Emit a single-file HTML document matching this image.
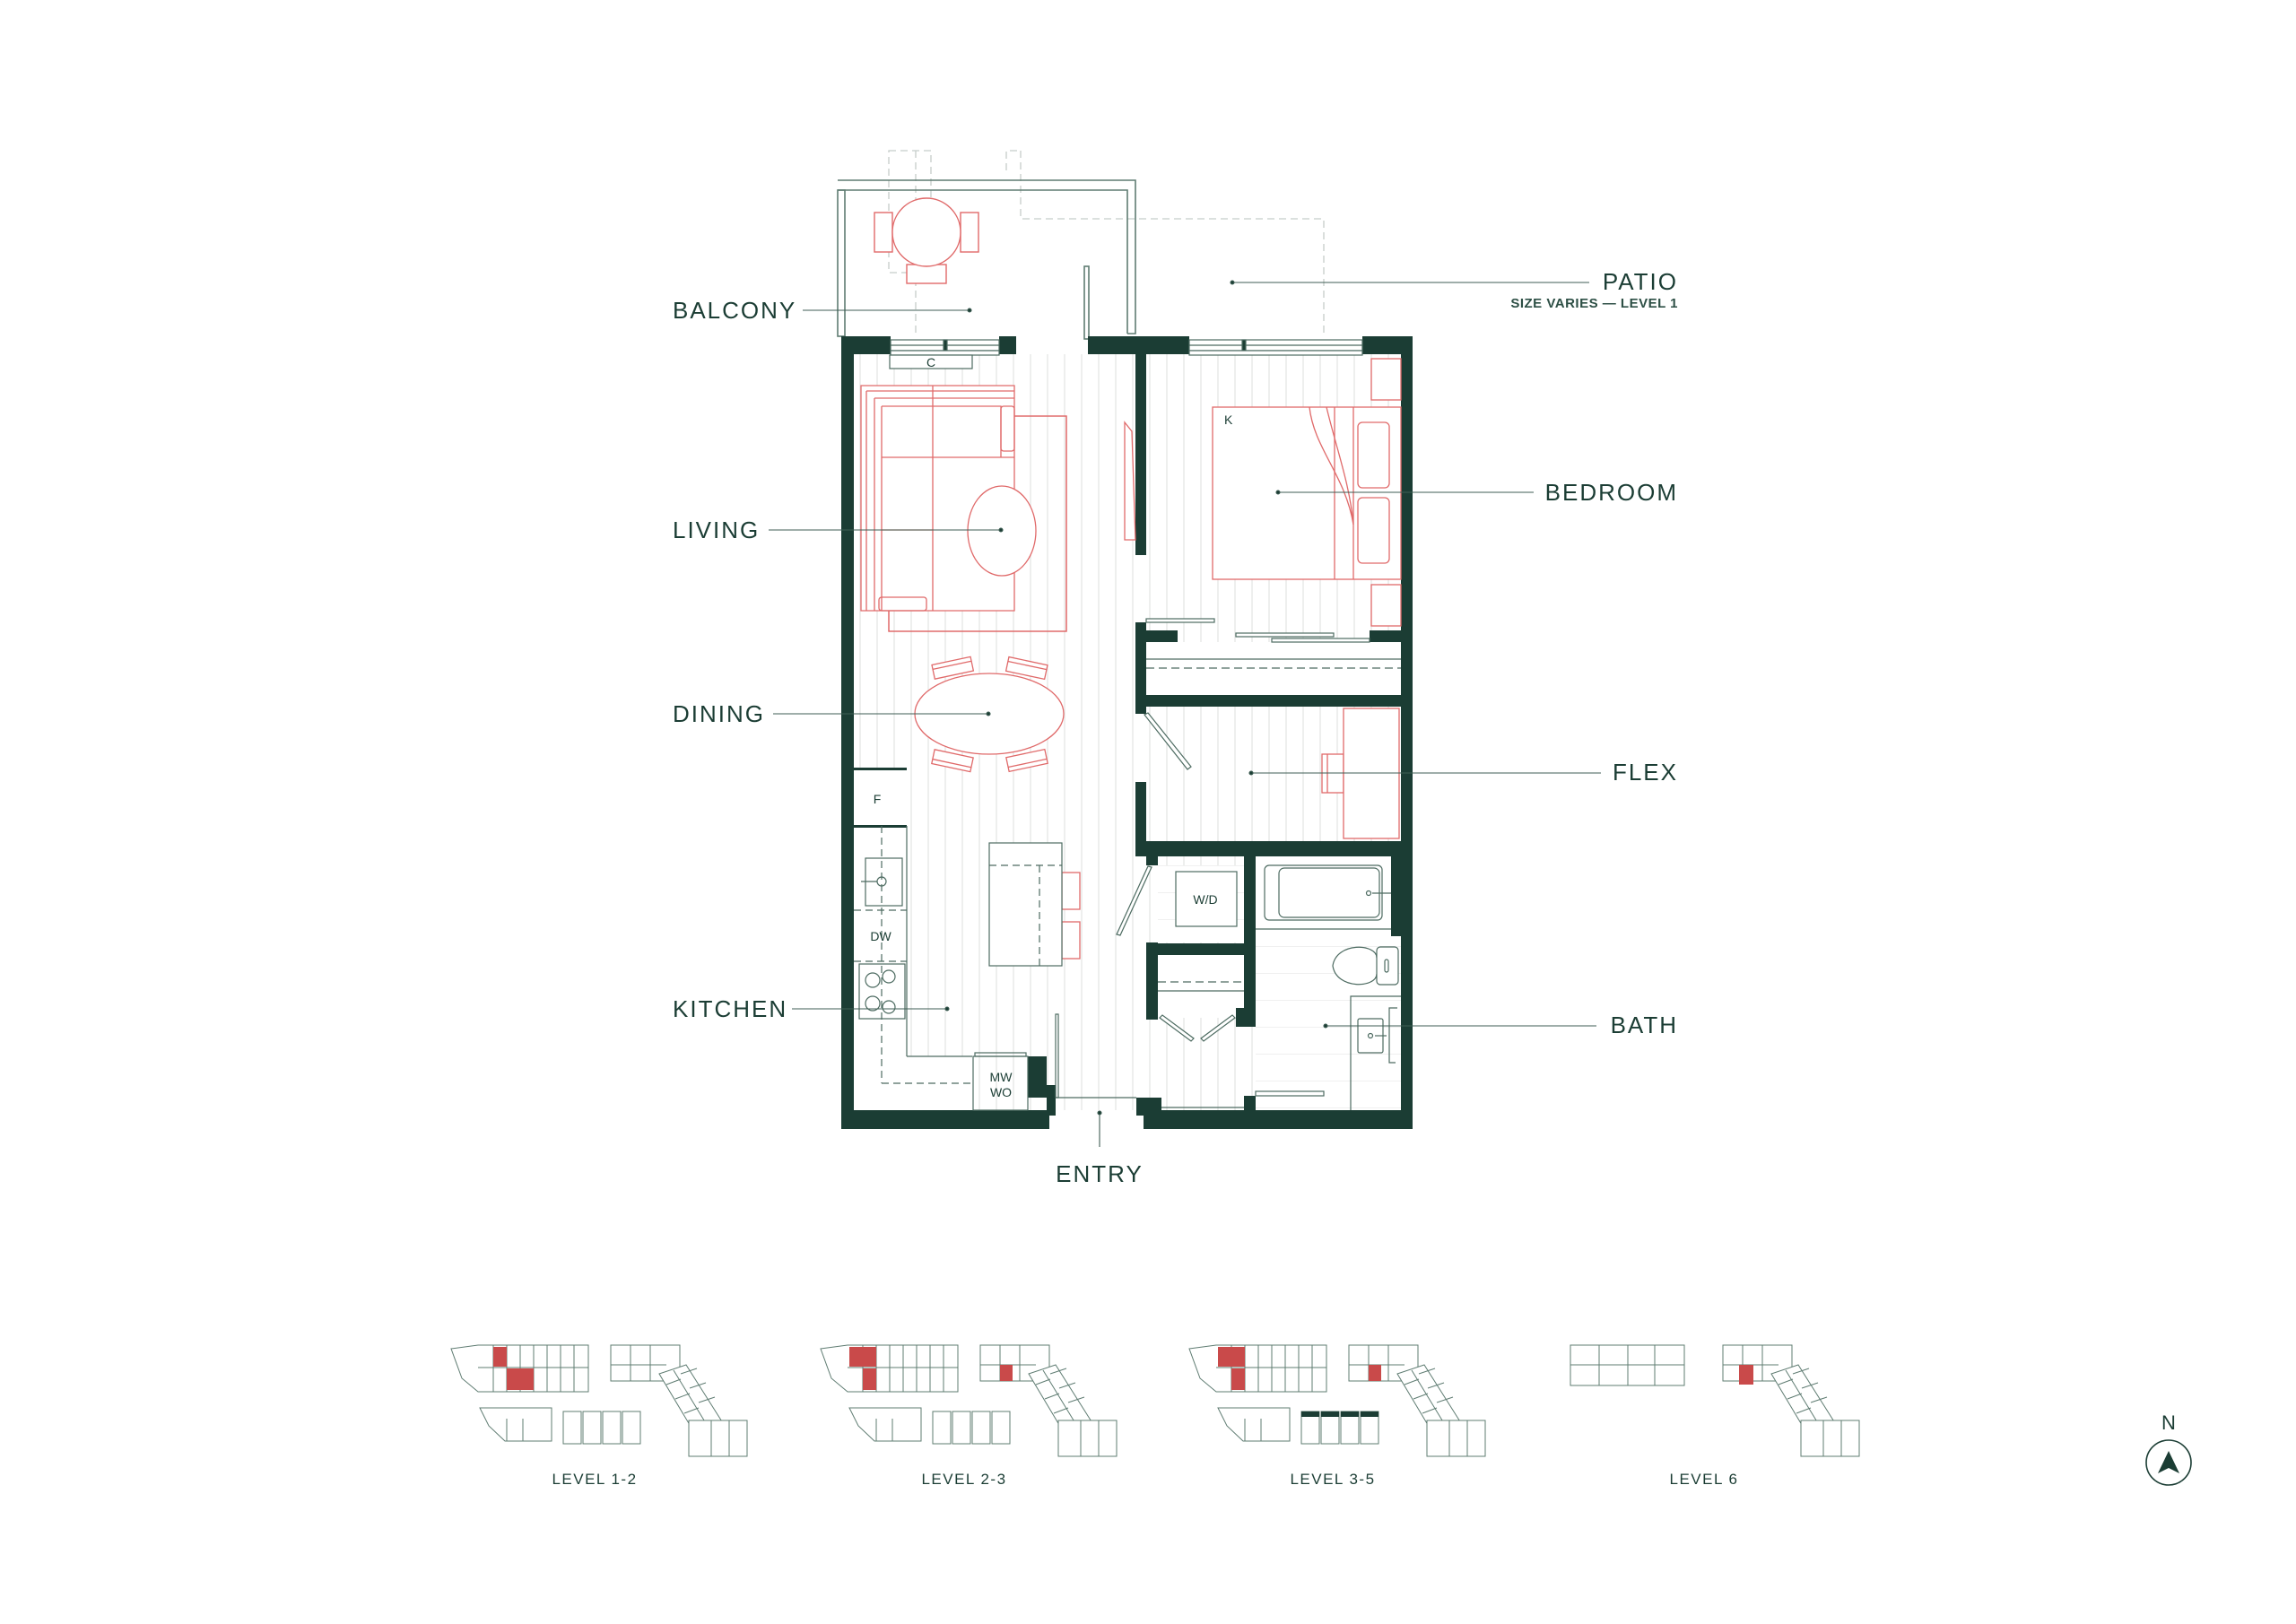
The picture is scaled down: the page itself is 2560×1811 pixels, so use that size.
<!DOCTYPE html>
<html><head><meta charset="utf-8"><style>
html,body{margin:0;padding:0;background:#fff;}
svg{display:block;}
.lbl{font-family:"Liberation Sans",sans-serif;font-size:26px;letter-spacing:2px;fill:#1b3d34;}
.sm{font-family:"Liberation Sans",sans-serif;font-size:15px;font-weight:bold;letter-spacing:0.5px;fill:#2d4f45;}
.tx{font-family:"Liberation Sans",sans-serif;font-size:14px;fill:#1b3d34;}
.kl{font-family:"Liberation Sans",sans-serif;font-size:17px;letter-spacing:1.5px;fill:#1b3d34;}
</style></head><body>
<svg width="2560" height="1811" viewBox="0 0 2560 1811" xmlns="http://www.w3.org/2000/svg">
<defs>
<pattern id="hatch" x="0" y="0" width="19" height="20" patternUnits="userSpaceOnUse">
<line x1="9" y1="0" x2="9" y2="20" stroke="#e2e4e3" stroke-width="1.2"/>
</pattern>
<pattern id="tile" x="0" y="5" width="200" height="30" patternUnits="userSpaceOnUse">
<line x1="0" y1="0" x2="200" y2="0" stroke="#e6e8e7" stroke-width="1.2"/>
</pattern>
<g id="wing">
<rect x="178" y="8" width="77" height="40" fill="#fff" stroke="#5f7c72"/>
<line x1="200" y1="8" x2="200" y2="48" stroke="#5f7c72"/><line x1="222" y1="8" x2="222" y2="48" stroke="#5f7c72"/>
<line x1="178" y1="30" x2="240" y2="30" stroke="#5f7c72"/>
<polygon points="232,40 262,30 305,98 275,112" fill="#fff" stroke="#5f7c72"/>
<line x1="248" y1="36" x2="290" y2="105" stroke="#5f7c72"/>
<line x1="240" y1="52" x2="256" y2="46" stroke="#5f7c72"/><line x1="250" y1="68" x2="266" y2="62" stroke="#5f7c72"/>
<line x1="260" y1="84" x2="276" y2="78" stroke="#5f7c72"/><line x1="256" y1="40" x2="274" y2="34" stroke="#5f7c72"/>
<line x1="266" y1="56" x2="284" y2="50" stroke="#5f7c72"/><line x1="276" y1="72" x2="294" y2="66" stroke="#5f7c72"/>
<rect x="265" y="92" width="65" height="40" fill="#fff" stroke="#5f7c72"/>
<line x1="290" y1="92" x2="290" y2="132" stroke="#5f7c72"/><line x1="310" y1="92" x2="310" y2="132" stroke="#5f7c72"/>
</g>
<g id="ulb">
<polygon points="0,12 30,8 153,8 153,60 30,60 12,45" fill="#fff" stroke="#5f7c72"/>
<line x1="30" y1="33" x2="153" y2="33" stroke="#5f7c72"/>
<line x1="47" y1="8" x2="47" y2="60" stroke="#5f7c72"/><line x1="62" y1="8" x2="62" y2="60" stroke="#5f7c72"/>
<line x1="77" y1="8" x2="77" y2="60" stroke="#5f7c72"/><line x1="92" y1="8" x2="92" y2="60" stroke="#5f7c72"/>
<line x1="107" y1="8" x2="107" y2="60" stroke="#5f7c72"/><line x1="122" y1="8" x2="122" y2="60" stroke="#5f7c72"/>
<line x1="137" y1="8" x2="137" y2="60" stroke="#5f7c72"/>
<polygon points="32,78 112,78 112,115 60,115 42,98" fill="#fff" stroke="#5f7c72"/>
<line x1="62" y1="90" x2="62" y2="115" stroke="#5f7c72"/><line x1="80" y1="90" x2="80" y2="115" stroke="#5f7c72"/>
</g>
</defs>

<!-- interior hatch -->
<rect x="952" y="395" width="610" height="843" fill="url(#hatch)"/>
<!-- kitchen counter white -->
<rect x="952" y="858" width="59" height="380" fill="#fff"/>
<rect x="1011" y="1178" width="73" height="60" fill="#fff"/>
<!-- bath/laundry tiles -->
<rect x="1400" y="955" width="162" height="283" fill="#fff"/>
<rect x="1400" y="1044" width="162" height="194" fill="url(#tile)"/>
<rect x="1291" y="965" width="96" height="86" fill="#fff"/>
<rect x="1291" y="965" width="96" height="86" fill="url(#tile)"/>
<rect x="1291" y="1065" width="96" height="70" fill="#fff"/>
<!-- bedroom closet -->
<rect x="1278" y="716" width="284" height="59" fill="#fff"/>

<!-- patio dashed -->
<g fill="none" stroke="#c5cdca" stroke-width="1.3" stroke-dasharray="8,5">
<polyline points="1138,168 1138,244 1476,244 1476,375"/>
<rect x="991" y="168" width="47" height="136"/>
<line x1="1021" y1="168" x2="1021" y2="375"/>
<polyline points="1122,190 1122,168 1138,168"/>
</g>
<!-- balcony rails -->
<g fill="none" stroke="#5f7c72" stroke-width="1.6">
<polyline points="934,201 1266,201 1266,372 1257,372"/>
<polyline points="934,212 1257,212 1257,372"/>
<rect x="934" y="212" width="8" height="163"/>
<rect x="1209" y="297" width="5" height="81"/>
</g>
<!-- balcony furniture -->
<g fill="#fff" stroke="#e06a6a" stroke-width="1.4">
<rect x="975" y="237" width="20" height="44"/><rect x="1071" y="237" width="20" height="44"/>
<rect x="1011" y="295" width="44" height="21"/>
<ellipse cx="1033" cy="259" rx="38" ry="38"/>
</g>

<!-- walls -->
<g fill="#1b3d34">
<rect x="938" y="375" width="14" height="884"/>
<rect x="938" y="375" width="55" height="20"/>
<rect x="1114" y="375" width="19" height="20"/>
<rect x="1213" y="375" width="113" height="20"/>
<rect x="1519" y="375" width="56" height="20"/>
<rect x="1562" y="375" width="13" height="884"/>
<rect x="938" y="1238" width="232" height="21"/>
<rect x="1275" y="1238" width="300" height="21"/>
<rect x="1146" y="1178" width="21" height="46"/>
<rect x="1167" y="1210" width="10" height="34"/>
<rect x="1267" y="1224" width="28" height="20"/>
<rect x="1266" y="395" width="12" height="224"/>
<rect x="1266" y="694" width="12" height="102"/>
<rect x="1278" y="703" width="35" height="13"/>
<rect x="1527" y="703" width="35" height="13"/>
<rect x="1266" y="775" width="309" height="13"/>
<rect x="1266" y="872" width="12" height="83"/>
<rect x="1266" y="938" width="309" height="17"/>
<rect x="1387" y="955" width="13" height="190"/>
<rect x="1278" y="955" width="13" height="10"/>
<rect x="1278" y="1051" width="13" height="86"/>
<rect x="1278" y="1052" width="122" height="13"/>
<rect x="1378" y="1124" width="22" height="21"/>
<rect x="1551" y="955" width="24" height="89"/>
<rect x="1387" y="1222" width="13" height="16"/>
<rect x="952" y="856" width="59" height="3"/>
<rect x="952" y="920" width="59" height="3"/>
</g>

<!-- windows -->
<g fill="#fff" stroke="#4d6b61" stroke-width="1.2">
<rect x="993" y="379" width="121" height="12"/>
<line x1="993" y1="385" x2="1114" y2="385"/>
<rect x="1052" y="379" width="4" height="12" fill="#1b3d34"/>
<rect x="993" y="391" width="121" height="5"/>
<rect x="1326" y="379" width="193" height="12"/>
<line x1="1326" y1="385" x2="1519" y2="385"/>
<rect x="1385" y="379" width="4" height="12" fill="#1b3d34"/>
<rect x="1326" y="391" width="193" height="5"/>
<rect x="992" y="396" width="92" height="15"/>
</g>
<text x="1038" y="409" class="tx" text-anchor="middle" font-size="12">C</text>

<!-- living furniture -->
<g fill="none" stroke="#e06a6a" stroke-width="1.3">
<rect x="991" y="464" width="198" height="240" fill="none"/>
<path d="M960,430 H1131 V681 H960 Z" fill="#fff"/>
<path d="M966,436 H1131 M966,436 V681"/>
<path d="M975,444 H1131 M975,444 V681"/>
<path d="M983,453 H1116 V510 M983,453 V681"/>
<rect x="1116" y="453" width="15" height="50" rx="3"/>
<line x1="1040" y1="430" x2="1040" y2="510"/>
<line x1="983" y1="510" x2="1131" y2="510"/>
<line x1="1040" y1="510" x2="1040" y2="681"/>
<line x1="983" y1="591" x2="1040" y2="591"/>
<rect x="980" y="666" width="53" height="15" rx="3"/>
<path d="M1131,464 H1189 V704 H991 V681"/>
<ellipse cx="1117" cy="592" rx="38" ry="50" fill="#fff"/>
<polygon points="1254,471 1262,481 1266,602 1254,602" fill="#fff"/>
</g>

<!-- bed -->
<g fill="#fff" stroke="#e06a6a" stroke-width="1.3">
<rect x="1529" y="400" width="33" height="46"/>
<rect x="1529" y="652" width="33" height="46"/>
<rect x="1352" y="454" width="210" height="192"/>
<line x1="1488" y1="454" x2="1488" y2="646"/><line x1="1509" y1="454" x2="1509" y2="646"/>
<rect x="1514" y="471" width="35" height="73" rx="5"/>
<rect x="1514" y="555" width="35" height="73" rx="5"/>
<path d="M1460,454 C1465,500 1500,530 1509,585 M1479,454 C1490,500 1505,540 1509,585" fill="none"/>
</g>
<text x="1365" y="473" class="tx">K</text>
<!-- closet slides -->
<g fill="#fff" stroke="#4d6b61" stroke-width="1.2">
<rect x="1278" y="690" width="76" height="4"/>
<rect x="1378" y="706" width="109" height="4"/>
<rect x="1418" y="712" width="109" height="4"/>
<line x1="1278" y1="735" x2="1562" y2="735"/>
<line x1="1278" y1="745" x2="1562" y2="745" stroke-dasharray="9,5"/>
</g>

<!-- dining -->
<g fill="#fff" stroke="#e06a6a" stroke-width="1.3">
<g transform="rotate(-12 1061 744)"><rect x="1040" y="737" width="44" height="16"/><line x1="1040" y1="742" x2="1084" y2="742"/></g>
<g transform="rotate(12 1145 744)"><rect x="1123" y="737" width="44" height="16"/><line x1="1123" y1="742" x2="1167" y2="742"/></g>
<g transform="rotate(12 1061 848)"><rect x="1040" y="840" width="44" height="16"/><line x1="1040" y1="851" x2="1084" y2="851"/></g>
<g transform="rotate(-12 1145 848)"><rect x="1123" y="840" width="44" height="16"/><line x1="1123" y1="851" x2="1167" y2="851"/></g>
<ellipse cx="1103" cy="796" rx="83" ry="45"/>
</g>

<!-- flex desk -->
<g fill="#fff" stroke="#e06a6a" stroke-width="1.3">
<rect x="1474" y="841" width="24" height="43"/>
<line x1="1480" y1="841" x2="1480" y2="884"/>
<rect x="1498" y="790" width="62" height="145"/>
</g>
<!-- doors -->
<g stroke="#4d6b61" stroke-width="1.2" fill="#fff">
<polygon points="1276,797 1280,795 1328,855 1324,858"/>
<polygon points="1280,966 1284,967 1249,1043 1245,1042"/>
<polygon points="1293,1135 1296,1132 1331,1158 1328,1161"/>
<polygon points="1377,1135 1374,1132 1339,1158 1342,1161"/>
<rect x="1177" y="1131" width="3" height="93"/>
<line x1="1177" y1="1224" x2="1267" y2="1224"/>
<rect x="1400" y="1217" width="76" height="5"/>
<line x1="1295" y1="1235" x2="1387" y2="1235"/>
<line x1="1291" y1="1095" x2="1387" y2="1095" stroke-dasharray="9,5"/>
<line x1="1291" y1="1105" x2="1387" y2="1105"/>
</g>

<!-- kitchen -->
<g fill="none" stroke="#4d6b61" stroke-width="1.2">
<line x1="1011" y1="921" x2="1011" y2="1178"/>
<line x1="1011" y1="1178" x2="1084" y2="1178"/>
<rect x="965" y="957" width="41" height="53"/>
<circle cx="983" cy="983" r="5"/><line x1="960" y1="983" x2="978" y2="983"/>
<g stroke-dasharray="8,5"><line x1="983" y1="921" x2="983" y2="1208"/><line x1="983" y1="1208" x2="1084" y2="1208"/>
<line x1="952" y1="1015" x2="1011" y2="1015"/><line x1="952" y1="1072" x2="1011" y2="1072"/></g>
<rect x="958" y="1075" width="51" height="61"/>
<circle cx="973" cy="1093" r="8"/><circle cx="991" cy="1089" r="7"/>
<circle cx="973" cy="1119" r="8"/><circle cx="991" cy="1123" r="7"/>
<rect x="1085" y="1178" width="61" height="60"/>
<rect x="1087" y="1174" width="57" height="4"/>
</g>
<text x="978" y="896" class="tx" text-anchor="middle">F</text>
<text x="982" y="1049" class="tx" text-anchor="middle">DW</text>
<text x="1116" y="1206" class="tx" text-anchor="middle">MW</text>
<text x="1116" y="1223" class="tx" text-anchor="middle">WO</text>
<!-- island -->
<g fill="#fff" stroke="#e06a6a" stroke-width="1.3"><rect x="1184" y="973" width="20" height="41"/><rect x="1184" y="1028" width="20" height="41"/></g>
<g fill="#fff" stroke="#4d6b61" stroke-width="1.2">
<rect x="1103" y="940" width="81" height="137"/>
<path d="M1103,965 H1184 M1159,965 V1077" fill="none" stroke-dasharray="8,5"/>
</g>

<!-- laundry / bath fixtures -->
<g fill="#fff" stroke="#4d6b61" stroke-width="1.2">
<rect x="1311" y="972" width="68" height="61"/>
<line x1="1400" y1="1036" x2="1551" y2="1036"/>
<rect x="1410" y="965" width="131" height="61" rx="5"/>
<rect x="1426" y="968" width="112" height="55" rx="6"/>
<circle cx="1526" cy="996" r="2.5"/><line x1="1530" y1="996" x2="1551" y2="996"/>
<path d="M1535,1068 C1535,1052 1490,1050 1486,1077 C1490,1104 1535,1102 1535,1086"/>
<rect x="1535" y="1056" width="24" height="42" rx="4"/>
<rect x="1544" y="1070" width="4" height="14" rx="2"/>
<polyline points="1506,1238 1506,1111 1562,1111" fill="none"/>
<rect x="1514" y="1136" width="28" height="38" rx="2"/>
<circle cx="1528" cy="1155" r="2.5"/><line x1="1533" y1="1155" x2="1546" y2="1155"/>
<polyline points="1558,1124 1549,1124 1549,1185 1556,1185" fill="none"/>
</g>
<text x="1344" y="1008" class="tx" text-anchor="middle">W/D</text>

<!-- leaders -->
<g stroke="#3f5e54" stroke-width="1.1" fill="#1b3d34">
<line x1="895" y1="346" x2="1081" y2="346"/><circle cx="1081" cy="346" r="2"/>
<line x1="857" y1="591" x2="1116" y2="591"/><circle cx="1116" cy="591" r="2"/>
<line x1="862" y1="796" x2="1102" y2="796"/><circle cx="1102" cy="796" r="2"/>
<line x1="883" y1="1125" x2="1056" y2="1125"/><circle cx="1056" cy="1125" r="2"/>
<line x1="1374" y1="315" x2="1772" y2="315"/><circle cx="1374" cy="315" r="2"/>
<line x1="1425" y1="549" x2="1710" y2="549"/><circle cx="1425" cy="549" r="2"/>
<line x1="1395" y1="862" x2="1785" y2="862"/><circle cx="1395" cy="862" r="2"/>
<line x1="1478" y1="1144" x2="1780" y2="1144"/><circle cx="1478" cy="1144" r="2"/>
<line x1="1226" y1="1241" x2="1226" y2="1279"/><circle cx="1226" cy="1241" r="2"/>
</g>
<text x="750" y="355" class="lbl">BALCONY</text>
<text x="750" y="600" class="lbl">LIVING</text>
<text x="750" y="805" class="lbl">DINING</text>
<text x="750" y="1134" class="lbl">KITCHEN</text>
<text x="1871" y="323" class="lbl" text-anchor="end">PATIO</text>
<text x="1871" y="343" class="sm" text-anchor="end">SIZE VARIES — LEVEL 1</text>
<text x="1871" y="558" class="lbl" text-anchor="end">BEDROOM</text>
<text x="1871" y="870" class="lbl" text-anchor="end">FLEX</text>
<text x="1871" y="1152" class="lbl" text-anchor="end">BATH</text>
<text x="1226" y="1318" class="lbl" text-anchor="middle">ENTRY</text>

<!-- key plans -->
<g transform="translate(503,1492)">
<use href="#ulb"/><use href="#wing"/>
<g fill="#fff" stroke="#5f7c72"><rect x="125" y="82" width="20" height="36"/><rect x="147" y="82" width="20" height="36"/><rect x="169" y="82" width="20" height="36"/><rect x="191" y="82" width="20" height="36"/></g>
<rect x="47" y="10" width="15" height="22" fill="#c94a4a"/><rect x="62" y="34" width="30" height="24" fill="#c94a4a"/>
<text x="160" y="163" class="kl" text-anchor="middle">LEVEL 1-2</text>
</g>
<g transform="translate(915,1492)">
<use href="#ulb"/><use href="#wing"/>
<g fill="#fff" stroke="#5f7c72"><rect x="125" y="82" width="20" height="36"/><rect x="147" y="82" width="20" height="36"/><rect x="169" y="82" width="20" height="36"/><rect x="191" y="82" width="20" height="36"/></g>
<rect x="32" y="10" width="30" height="22" fill="#c94a4a"/><rect x="47" y="34" width="15" height="24" fill="#c94a4a"/><rect x="200" y="30" width="14" height="18" fill="#c94a4a"/>
<text x="160" y="163" class="kl" text-anchor="middle">LEVEL 2-3</text>
</g>
<g transform="translate(1326,1492)">
<use href="#ulb"/><use href="#wing"/>
<g fill="#fff" stroke="#5f7c72"><rect x="125" y="82" width="20" height="36"/><rect x="147" y="82" width="20" height="36"/><rect x="169" y="82" width="20" height="36"/><rect x="191" y="82" width="20" height="36"/></g>
<g fill="#1b3d34"><rect x="125" y="82" width="20" height="6"/><rect x="147" y="82" width="20" height="6"/><rect x="169" y="82" width="20" height="6"/><rect x="191" y="82" width="20" height="6"/></g>
<rect x="32" y="10" width="30" height="22" fill="#c94a4a"/><rect x="47" y="34" width="15" height="24" fill="#c94a4a"/><rect x="200" y="30" width="14" height="18" fill="#c94a4a"/>
<text x="160" y="163" class="kl" text-anchor="middle">LEVEL 3-5</text>
</g>
<g transform="translate(1743,1492)">
<g fill="#fff" stroke="#5f7c72"><rect x="8" y="8" width="127" height="45"/><line x1="8" y1="30" x2="135" y2="30"/><line x1="40" y1="8" x2="40" y2="53"/><line x1="72" y1="8" x2="72" y2="53"/><line x1="102" y1="8" x2="102" y2="53"/></g>
<use href="#wing"/>
<rect x="196" y="30" width="16" height="22" fill="#c94a4a"/>
<text x="157" y="163" class="kl" text-anchor="middle">LEVEL 6</text>
</g>

<!-- north -->
<text x="2418" y="1594" font-family="Liberation Sans, sans-serif" font-size="22" fill="#1b3d34" text-anchor="middle">N</text>
<circle cx="2418" cy="1631" r="25" fill="none" stroke="#1b3d34" stroke-width="1.6"/>
<polygon points="2418,1618 2430,1643 2418,1637 2406,1643" fill="#1b3d34"/>
</svg>
</body></html>
